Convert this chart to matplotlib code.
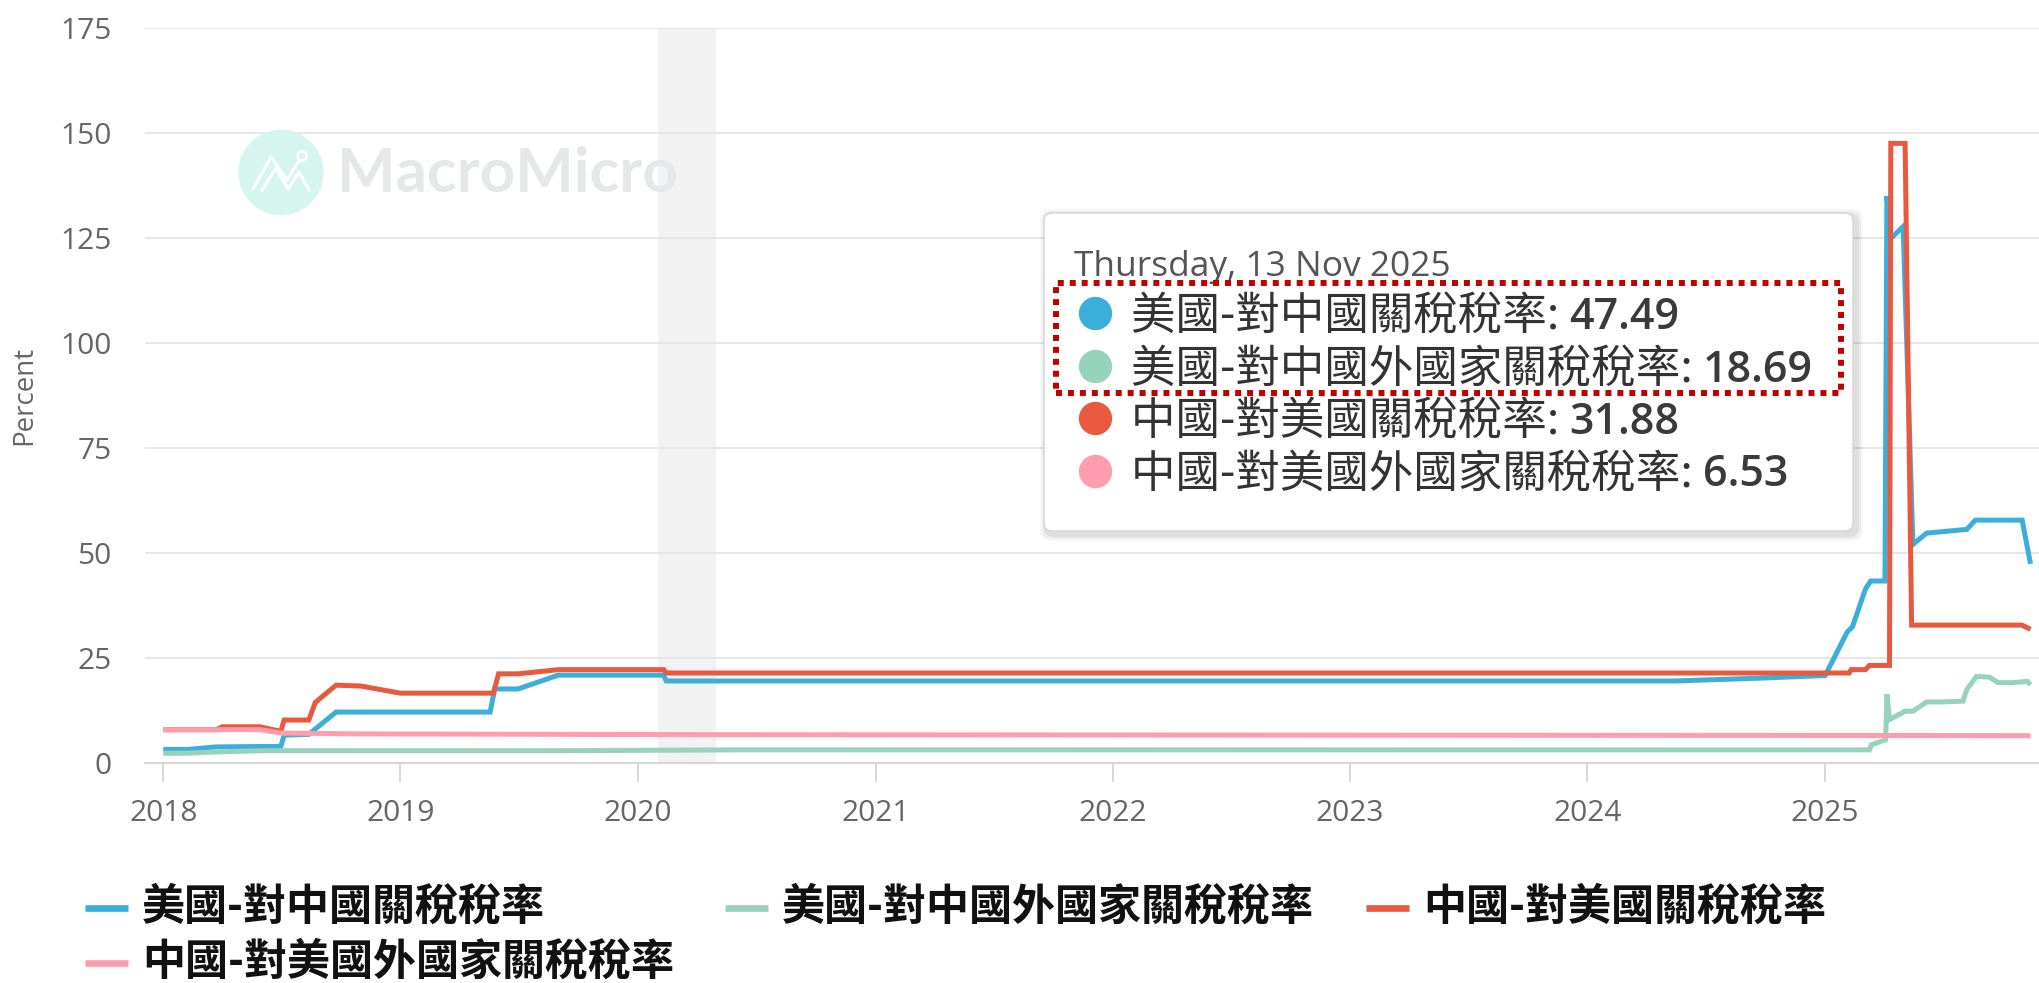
import matplotlib
matplotlib.use("Agg")
import matplotlib.pyplot as plt
import matplotlib.dates as mdates
from matplotlib.lines import Line2D
from matplotlib.patches import FancyBboxPatch, Circle, Rectangle
import pandas as pd

W, H, DPI = 2039, 983, 100
plt.rcParams['font.family'] = ['Open Sans', 'Noto Sans CJK TC', 'DejaVu Sans']
CJK = ['Noto Sans CJK TC', 'DejaVu Sans']

# ---- Data ----
us_cn_dates = ["2018-01-01", "2018-02-07", "2018-03-23", "2018-05-30", "2018-07-01", "2018-07-06",
               "2018-08-13", "2018-09-24", "2019-05-19", "2019-05-26", "2019-07-01", "2019-09-01",
               "2020-02-10", "2020-02-14", "2024-05-15", "2024-09-27", "2025-01-01", "2025-02-04",
               "2025-02-12", "2025-03-04", "2025-03-12", "2025-04-03", "2025-04-06", "2025-04-11",
               "2025-05-01", "2025-05-16", "2025-06-06", "2025-08-07", "2025-08-20", "2025-10-31",
               "2025-11-13"]
us_cn_vals = [3.3, 3.3, 3.9, 4.0, 4.0, 6.7, 6.9, 12.2, 12.2, 17.7, 17.7, 21.0,
              21.0, 19.6, 19.6, 20.3, 20.9, 31.3, 32.5, 41.5, 43.4, 43.4, 135.0, 124.8,
              127.8, 52.1, 54.8, 55.7, 57.9, 57.9, 47.49]

us_row_dates = ["2018-01-01", "2018-02-07", "2018-03-23", "2018-05-30", "2019-09-01", "2020-06-01",
                "2025-03-10", "2025-03-13", "2025-04-04", "2025-04-06", "2025-04-10", "2025-05-04",
                "2025-05-16", "2025-06-06", "2025-06-27", "2025-08-01", "2025-08-07", "2025-08-22",
                "2025-09-11", "2025-09-24", "2025-10-17", "2025-11-08", "2025-11-13"]
us_row_vals = [2.4, 2.4, 2.7, 3.0, 3.0, 3.2, 3.2, 4.4, 5.6, 16.4, 10.4, 12.4,
               12.4, 14.6, 14.6, 14.8, 17.6, 20.7, 20.5, 19.2, 19.2, 19.5, 18.69]

cn_us_dates = ["2018-01-01", "2018-03-24", "2018-04-02", "2018-05-30", "2018-07-01", "2018-07-06",
               "2018-08-13", "2018-08-23", "2018-09-24", "2018-11-01", "2019-01-01", "2019-05-24",
               "2019-06-01", "2019-07-01", "2019-09-01", "2020-02-10", "2020-02-14", "2025-02-07",
               "2025-02-10", "2025-03-04", "2025-03-10", "2025-04-10", "2025-04-12", "2025-05-04",
               "2025-05-14", "2025-10-31", "2025-11-13"]
cn_us_vals = [8.0, 8.0, 8.7, 8.7, 7.6, 10.3, 10.3, 14.5, 18.6, 18.4, 16.7, 16.7,
              21.3, 21.3, 22.3, 22.3, 21.5, 21.5, 22.3, 22.3, 23.3, 23.3, 147.6, 147.6,
              32.9, 32.9, 31.88]

cn_row_dates = ["2018-01-01", "2018-05-30", "2018-07-01", "2018-11-01", "2020-06-01", "2023-01-01",
                "2025-11-01", "2025-11-13"]
cn_row_vals = [8.0, 8.0, 7.2, 7.0, 6.8, 6.7, 6.6, 6.53]

labels = ["美國-對中國關稅稅率", "美國-對中國外國家關稅稅率", "中國-對美國關稅稅率", "中國-對美國外國家關稅稅率"]
colors = ["#3baeda", "#96d2bc", "#e85940", "#ff9cae"]
tooltip_vals = ["47.49", "18.69", "31.88", "6.53"]
tooltip_date = "Thursday, 13 Nov 2025"
years = list(range(2018, 2026))
yticks = [0, 25, 50, 75, 100, 125, 150, 175]
recession = ("2020-02-01", "2020-04-30")

series = [(us_cn_dates, us_cn_vals), (us_row_dates, us_row_vals),
          (cn_us_dates, cn_us_vals), (cn_row_dates, cn_row_vals)]


def P(x, y):
    # pixel position measured from the top-left of the picture -> inches (fig.dpi_scale_trans)
    return x / DPI, (H - y) / DPI


# ---- Figure / axes ----
fig = plt.figure(figsize=(W / DPI, H / DPI), dpi=DPI)
ax_l, ax_top, ax_bot = 145, 28.3, 763.3
ax = fig.add_axes([ax_l / W, 1 - ax_bot / H, 1 - ax_l / W, (ax_bot - ax_top) / H])

ax.axvspan(pd.Timestamp(recession[0]), pd.Timestamp(recession[1]), color="#f2f2f2", zorder=0, lw=0)

for i, (d, v) in enumerate(series):
    ax.plot(pd.to_datetime(d), v, color=colors[i], lw=3.6, zorder=3 + i,
            solid_joinstyle="miter", solid_capstyle="butt")

ax.set_ylim(0, 175)
ax.set_yticks(yticks)
ax.set_xlim(pd.Timestamp("2017-12-04"), pd.Timestamp("2025-11-26"))
ax.set_xticks([pd.Timestamp(f"{y}-01-01") for y in years])
ax.xaxis.set_major_formatter(mdates.DateFormatter("%Y"))

ax.set_axisbelow(True)
ax.yaxis.grid(True, color="#e6e6e6", lw=1.4)
for s in ["top", "right", "left"]:
    ax.spines[s].set_visible(False)
ax.spines["bottom"].set_color("#d6d6d6")
ax.spines["bottom"].set_linewidth(1.5)
ax.tick_params(axis="y", length=0, pad=24, labelsize=21.5, labelcolor="#666666")
ax.tick_params(axis="x", length=14, width=1.3, color="#d6d6d6", pad=12,
               labelsize=21.5, labelcolor="#666666")
ax.set_ylabel("Percent", fontsize=20, color="#666666")
ax.yaxis.label.set_va("center")
ax.yaxis.set_label_coords(-(ax_l - 24) / (W - ax_l), 0.5)

# ---- Watermark ----
tr = fig.dpi_scale_trans
fig.patches.append(Circle(P(281, 172.5), 42 / DPI, transform=tr, color="#d5f5ee", zorder=1))
for pts in [[(253, 189), (271, 157), (287, 180), (299, 161)],
            [(262, 190), (276, 168), (288, 189), (299, 172), (309, 190)]]:
    xs, ys = zip(*[P(*p) for p in pts])
    fig.lines.append(Line2D(xs, ys, transform=tr, color="white", lw=2.2, zorder=2))
fig.patches.append(Circle(P(302, 156), 4.5 / DPI, transform=tr, fc="#d5f5ee", ec="white", lw=2, zorder=2))
fig.text(*P(337, 174), "MacroMicro", transform=tr, fontsize=44.5, fontweight="bold",
         family="Lato", color="#e5e7e9", va="center", ha="left", zorder=1)

# ---- Tooltip ----
bx0, by0, bx1, by1 = 1044, 213, 1853, 531
for k, a in [(7, 0.03), (5, 0.045), (3, 0.06)]:
    fig.patches.append(FancyBboxPatch(P(bx0 - k + 3, by1 + k + 3), (bx1 - bx0 + 2 * k) / DPI,
                                      (by1 - by0 + 2 * k) / DPI, boxstyle="round,pad=0,rounding_size=0.1",
                                      transform=tr, fc="black", ec="none", alpha=a, zorder=20))
fig.patches.append(FancyBboxPatch(P(bx0, by1), (bx1 - bx0) / DPI, (by1 - by0) / DPI,
                                  boxstyle="round,pad=0,rounding_size=0.08", transform=tr,
                                  fc="white", ec="#d4d4d4", lw=1, zorder=21))
fig.text(*P(1074, 276), tooltip_date, transform=tr, fontsize=25.5, color="#555555",
         va="baseline", ha="left", zorder=22)

rows_y = [313, 365.5, 418, 470.5]
cjk_texts = []
for i, lab in enumerate(labels):
    cy = rows_y[i]
    fig.lines.append(Line2D([1095 / DPI], [(H - cy) / DPI], transform=tr, marker="o", ms=24,
                            mfc=colors[i], mec="none", zorder=22))
    t = fig.text(*P(1131, cy + 16), lab + ": ", transform=tr, fontsize=32, family=CJK,
                 fontweight="light", color="#333333", va="baseline", ha="left", zorder=22)
    cjk_texts.append(t)

fig.canvas.draw()
renderer = fig.canvas.get_renderer()
for i, t in enumerate(cjk_texts):
    x1 = t.get_window_extent(renderer).x1
    fig.text(x1 / DPI, (H - rows_y[i] - 16) / DPI, tooltip_vals[i], transform=tr, fontsize=31,
             fontweight="semibold", color="#3a3a3a", va="baseline", ha="left", zorder=22)

fig.patches.append(Rectangle(P(1056, 393), (1841 - 1056) / DPI, (393 - 283) / DPI, transform=tr,
                             fill=False, ec="#c00000", lw=4.3, ls=(0, (1, 1)), zorder=23))

# ---- Legend (fixed-width items, Highcharts style) ----
leg_pos = [(85, 907), (725, 907), (1366, 907), (85, 962)]
for i, lab in enumerate(labels):
    lx, ly = leg_pos[i]
    fig.lines.append(Line2D([lx / DPI, (lx + 43) / DPI], [(H - ly - 1) / DPI] * 2, transform=tr,
                            color=colors[i], lw=4.8, solid_capstyle="butt"))
    fig.text(*P(lx + 57, ly), lab, transform=tr, fontsize=31, family=CJK, fontweight="bold",
             color="#111111", va="center", ha="left")

fig.savefig("out.png", dpi=DPI)
